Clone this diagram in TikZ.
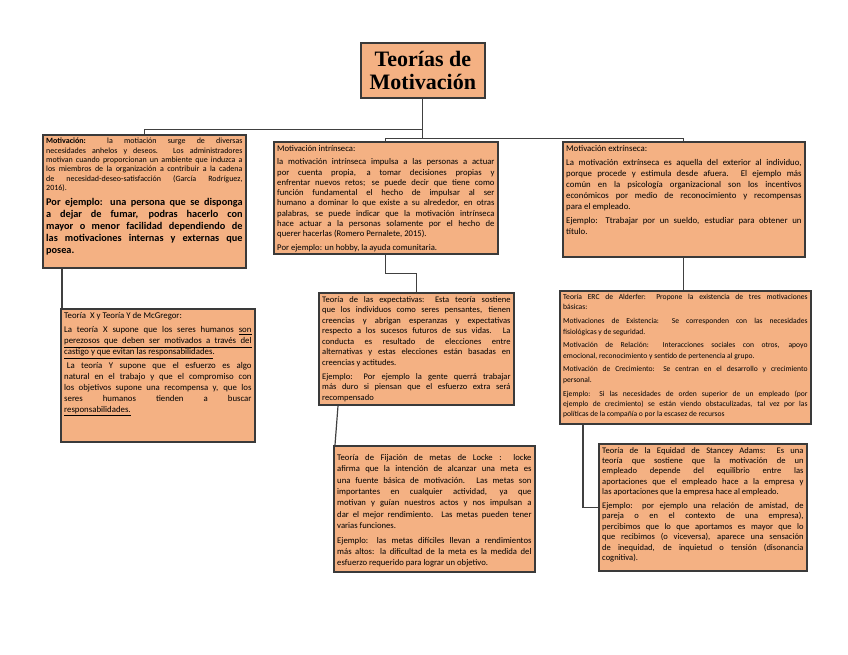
\documentclass[tikz,border=0pt]{standalone}
\usepackage{fontspec}
\setmainfont{Carlito}
\newfontfamily\fuentetitulo{Liberation Serif}
\usetikzlibrary{positioning, calc}
\definecolor{salmon}{HTML}{F4B183}
\definecolor{bordegris}{HTML}{3A3A3A}
\definecolor{lineagris}{HTML}{404040}
\newdimen\px \px=0.75pt
% caja de texto con ancho y alto en pixeles
\newcommand{\cajatexto}[3]{\parbox[t][\dimexpr#2\px-5pt\relax][t]{\dimexpr#1\px-5pt\relax}{\setlength{\parskip}{2.5pt}#3}}
% linea subrayada de ancho completo
\newcommand{\lineasub}[1]{\underline{\makebox[\linewidth][s]{#1}}}

\begin{document}
\begin{tikzpicture}[x=0.75pt, y=-0.75pt,
    caja/.style={draw=bordegris, fill=salmon, line width=1.3pt, inner sep=2.5pt, anchor=north west, text=black},
    conector/.style={draw=lineagris, line width=0.9pt}]
  \useasboundingbox (0,0) rectangle (848,655);

  % Titulo
  \node[caja, minimum width=93pt, minimum height=41.25pt, align=center, font=\fuentetitulo\bfseries\fontsize{16.5}{17.5}\selectfont] (titulo) at (360,42) {Teorías de\\Motivación};

  % Primer nivel
  \node[caja, font=\fontsize{6}{7}\selectfont] (mot) at (42,134) {\cajatexto{203}{133}{%
    {\bfseries Motivación:} la motiación surge de diversas\linebreak necesidades anhelos y deseos. Los administradores\linebreak motivan cuando proporcionan un ambiente que induzca a\linebreak los miembros de la organización a contribuir a la cadena\linebreak de necesidad-deseo-satisfacción (García Rodríguez,\linebreak 2016).\par
    {\bfseries\fontsize{7.7}{9}\selectfont Por ejemplo: una persona que se disponga\linebreak a dejar de fumar, podras hacerlo con\linebreak mayor o menor facilidad dependiendo de\linebreak las motivaciones internas y externas que\linebreak posea.\par}}};

  \node[caja, font=\fontsize{6.5}{7.7}\selectfont] (intr) at (273,141) {\cajatexto{224}{112}{%
    Motivación intrínseca:\par
    la motivación intrínseca impulsa a las personas a actuar\linebreak por cuenta propia, a tomar decisiones propias y\linebreak enfrentar nuevos retos; se puede decir que tiene como\linebreak función fundamental el hecho de impulsar al ser\linebreak humano a dominar lo que existe a su alrededor, en otras\linebreak palabras, se puede indicar que la motivación intrínseca\linebreak hace actuar a la personas solamente por el hecho de\linebreak querer hacerlas (Romero Pernalete, 2015).\par
    Por ejemplo: un hobby, la ayuda comunitaria.}};

  \node[caja, font=\fontsize{6.6}{8.2}\selectfont] (extr) at (562,141) {\cajatexto{242}{115}{%
    Motivación extrínseca:\par
    La motivación extrínseca es aquella del exterior al individuo,\linebreak porque procede y estimula desde afuera. El ejemplo más\linebreak común en la psicología organizacional son los incentivos\linebreak económicos por medio de reconocimiento y recompensas\linebreak para el empleado.\par
    Ejemplo: Ttrabajar por un sueldo, estudiar para obtener un\linebreak título.}};

  % Segundo nivel
  \node[caja, font=\fontsize{6.6}{8.2}\selectfont] (mcg) at (60,308) {\cajatexto{194}{133}{%
    Teoría\ \ X y Teoría Y de McGregor:\par
    La teoría X supone que los seres humanos \underline{son}\linebreak \lineasub{perezosos que deben ser motivados a través del}\linebreak \underline{castigo y que evitan las responsabilidades}.\par
    \hspace*{2pt}La teoría Y supone que el esfuerzo es algo\linebreak natural en el trabajo y que el compromiso con\linebreak los objetivos supone una recompensa y, que los\linebreak seres humanos tienden a buscar\linebreak \underline{responsabilidades.}}};

  \node[caja, font=\fontsize{6.4}{7.9}\selectfont] (expe) at (318,292) {\cajatexto{195}{112}{%
    Teoría de las expectativas: Esta teoría sostiene\linebreak que los individuos como seres pensantes, tienen\linebreak creencias y abrigan esperanzas y expectativas\linebreak respecto a los sucesos futuros de sus vidas. La\linebreak conducta es resultado de elecciones entre\linebreak alternativas y estas elecciones están basadas en\linebreak creencias y actitudes.\par
    Ejemplo: Por ejemplo la gente querrá trabajar\linebreak más duro si piensan que el esfuerzo extra será\linebreak recompensado}};

  \node[caja, font=\fontsize{5.7}{7.8}\selectfont] (erc) at (559,290) {\cajatexto{251}{133}{%
    Teoría ERC de Alderfer: Propone la existencia de tres motivaciones\linebreak básicas:\par
    Motivaciones de Existencia: Se corresponden con las necesidades\linebreak fisiológicas y de seguridad.\par
    Motivación de Relación: Interacciones sociales con otros, apoyo\linebreak emocional, reconocimiento y sentido de pertenencia al grupo.\par
    Motivación de Crecimiento: Se centran en el desarrollo y crecimiento\linebreak personal.\par
    Ejemplo: Si las necesidades de orden superior de un empleado (por\linebreak ejemplo de crecimiento) se están viendo obstaculizadas, tal vez por las\linebreak políticas de la compañía o por la escasez de recursos}};

  % Tercer nivel
  \node[caja, font=\fontsize{6.5}{8.5}\selectfont] (locke) at (333,445) {\cajatexto{201}{126}{%
    \vspace*{1.5pt}Teoría de Fijación de metas de Locke : locke\linebreak afirma que la intención de alcanzar una meta es\linebreak una fuente básica de motivación. Las metas son\linebreak importantes en cualquier actividad, ya que\linebreak motivan y guían nuestros actos y nos impulsan a\linebreak dar el mejor rendimiento. Las metas pueden tener\linebreak varias funciones.\par
    Ejemplo: las metas difíciles llevan a rendimientos\linebreak más altos: la dificultad de la meta es la medida del\linebreak esfuerzo requerido para lograr un objetivo.}};

  \node[caja, font=\fontsize{6.4}{7.8}\selectfont] (adams) at (598,443) {\cajatexto{208}{127}{%
    Teoría de la Equidad de Stancey Adams: Es una\linebreak teoría que sostiene que la motivación de un\linebreak empleado depende del equilibrio entre las\linebreak aportaciones que el empleado hace a la empresa y\linebreak las aportaciones que la empresa hace al empleado.\par
    Ejemplo: por ejemplo una relación de amistad, de\linebreak pareja o en el contexto de una empresa),\linebreak percibimos que lo que aportamos es mayor que lo\linebreak que recibimos (o viceversa), aparece una sensación\linebreak de inequidad, de inquietud o tensión (disonancia\linebreak cognitiva).}};

  % Conectores
  \coordinate (rama1) at ($(titulo.south)+(0,31)$);
  \coordinate (rama2) at ($(titulo.south)+(0,40)$);
  \draw[conector] (titulo.south) -- (rama2);
  \draw[conector] (rama1) -| (mot.north);
  \draw[conector] (intr.north) |- (rama2) -| (extr.north);

  \coordinate (baja1) at ([xshift=15pt]mot.south west);
  \draw[conector] (baja1) -- (baja1 |- mcg.north);
  \draw[conector] (intr.south) |- ($(intr.south)!0.5!(expe.north)$) -| (expe.north);
  \draw[conector] (extr.south) -- (extr.south |- erc.north);

  \draw[conector] ([xshift=15pt]expe.south west) -- ([xshift=1.5pt]locke.north west);
  \coordinate (baja2) at ([xshift=18pt]erc.south west);
  \draw[conector] (baja2) |- (adams.west);
\end{tikzpicture}
\end{document}
